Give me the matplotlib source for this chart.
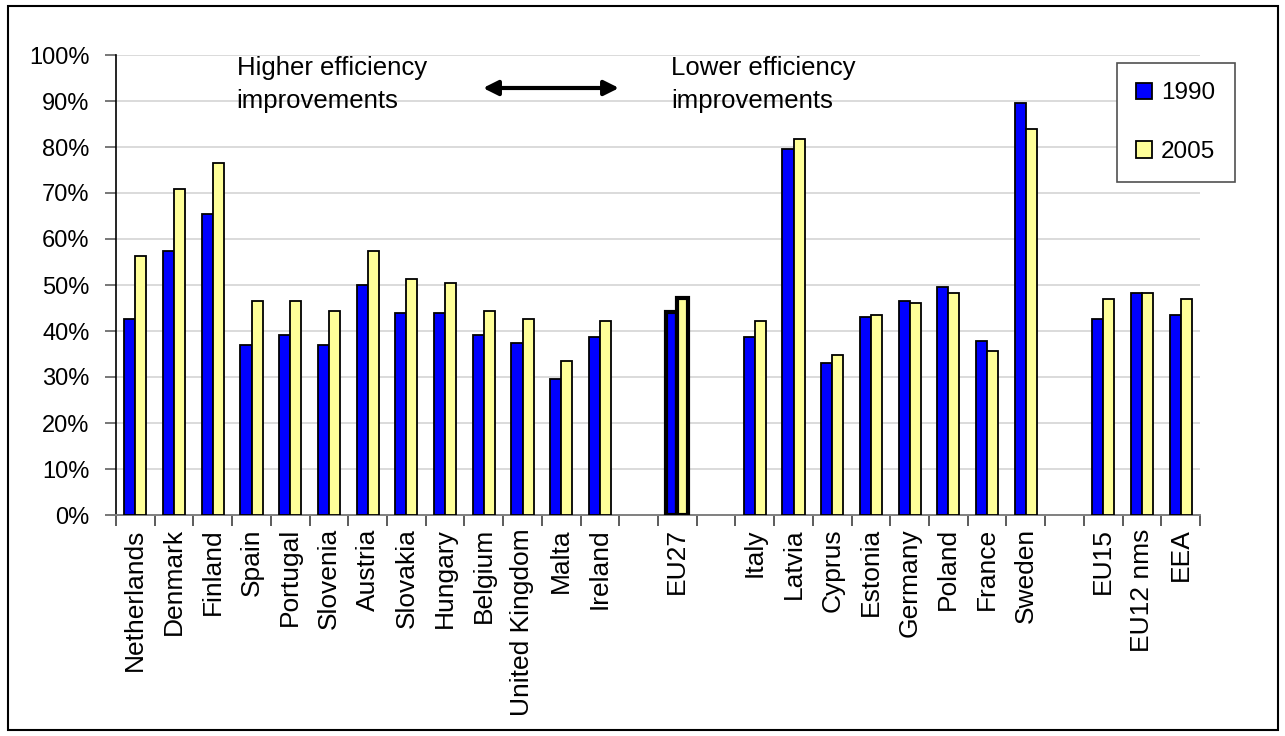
import matplotlib
matplotlib.use('Agg')
import matplotlib.pyplot as plt
import matplotlib.patches as patches
from matplotlib.ticker import PercentFormatter, FixedLocator
import numpy as np

plt.rcParams['font.family'] = ['Liberation Sans', 'DejaVu Sans']

# Data (empty strings are blank slots between groups)
categories = ['Netherlands', 'Denmark', 'Finland', 'Spain', 'Portugal', 'Slovenia',
              'Austria', 'Slovakia', 'Hungary', 'Belgium', 'United Kingdom', 'Malta',
              'Ireland', '', 'EU27', '', 'Italy', 'Latvia', 'Cyprus', 'Estonia',
              'Germany', 'Poland', 'France', 'Sweden', '', 'EU15', 'EU12 nms', 'EEA']
v1990 = [42.7, 57.5, 65.4, 37.0, 39.1, 37.0, 50.1, 44.0, 44.0, 39.1, 37.5, 29.6,
         38.8, None, 44.1, None, 38.7, 79.6, 33.0, 43.0, 46.5, 49.6, 37.9, 89.6,
         None, 42.6, 48.3, 43.5]
v2005 = [56.2, 70.9, 76.6, 46.5, 46.5, 44.3, 57.5, 51.3, 50.4, 44.3, 42.6, 33.5,
         42.2, None, 47.1, None, 42.2, 81.8, 34.8, 43.5, 46.1, 48.3, 35.7, 83.9,
         None, 47.0, 48.3, 47.0]
series_names = ['1990', '2005']

BLUE = '#0000FF'
YELLOW = '#FFFF99'

fig = plt.figure(figsize=(12.85, 7.36), dpi=100)
ax = fig.add_axes([116 / 1285, 1 - 515 / 736, (1200 - 116) / 1285, (515 - 55) / 736])

x = np.arange(len(categories))
w = 0.2857
for vals, off, col, name in [(v1990, -w / 2, BLUE, series_names[0]),
                             (v2005, w / 2, YELLOW, series_names[1])]:
    idx = [i for i, v in enumerate(vals) if v is not None]
    h = [vals[i] / 100 for i in idx]
    lws = [3.0 if categories[i] == 'EU27' else 1.3 for i in idx]
    ax.bar(x[idx] + off, h, width=w, color=col, edgecolor='black',
           linewidth=lws, label=name, zorder=3)

ax.set_xlim(-0.5, len(categories) - 0.5)
ax.set_ylim(0, 1)
ax.yaxis.set_major_locator(FixedLocator(np.arange(0, 1.01, 0.1)))
ax.yaxis.set_major_formatter(PercentFormatter(1.0, decimals=0))
ax.grid(axis='y', color='#d4d4d4', linewidth=1.2, zorder=0)
ax.set_axisbelow(True)

ax.set_xticks(x)
ax.set_xticklabels(categories, rotation=90, va='top', ha='center', fontsize=19)
ax.set_xticks(np.arange(-0.5, len(categories)), minor=True)
ax.tick_params(axis='x', which='major', length=0, pad=9.5)
ax.tick_params(axis='x', which='minor', length=8, width=1.2, color='#404040')
ax.tick_params(axis='y', length=8, width=1.2, color='#606060', labelsize=17, pad=11)

for s in ['top', 'right']:
    ax.spines[s].set_visible(False)
ax.spines['left'].set_color('black')
ax.spines['left'].set_linewidth(1.2)
ax.spines['bottom'].set_color('#808080')
ax.spines['bottom'].set_linewidth(1.4)

# Annotations
ax.text(0.1113, 0.998, 'Higher efficiency\nimprovements', transform=ax.transAxes,
        ha='left', va='top', fontsize=18.5, linespacing=1.5)
ax.text(0.512, 0.998, 'Lower efficiency\nimprovements', transform=ax.transAxes,
        ha='left', va='top', fontsize=18.5, linespacing=1.5)
ax.annotate('', xy=(619 / 1285, 1 - 88 / 736), xytext=(483 / 1285, 1 - 88 / 736),
            xycoords='figure fraction', textcoords='figure fraction',
            arrowprops=dict(arrowstyle='<|-|>', color='black', lw=3,
                            mutation_scale=22, shrinkA=0, shrinkB=0))

leg = ax.legend(loc='upper left', bbox_to_anchor=(1117 / 1285, 1 - 63 / 736),
                bbox_transform=fig.transFigure, fontsize=17.5, frameon=True,
                fancybox=False, edgecolor='#505050', framealpha=1,
                handlelength=0.66, handleheight=0.66, handletextpad=0.35,
                labelspacing=1.5, borderpad=0.8, borderaxespad=0)
leg.get_frame().set_linewidth(1.2)

# Outer frame
fig.patches.append(patches.Rectangle((8 / 1285, 6 / 736), 1270 / 1285, 724 / 736,
                                     transform=fig.transFigure, fill=False,
                                     edgecolor='black', linewidth=1.5))

fig.savefig('out.png', dpi=100, facecolor='white')
